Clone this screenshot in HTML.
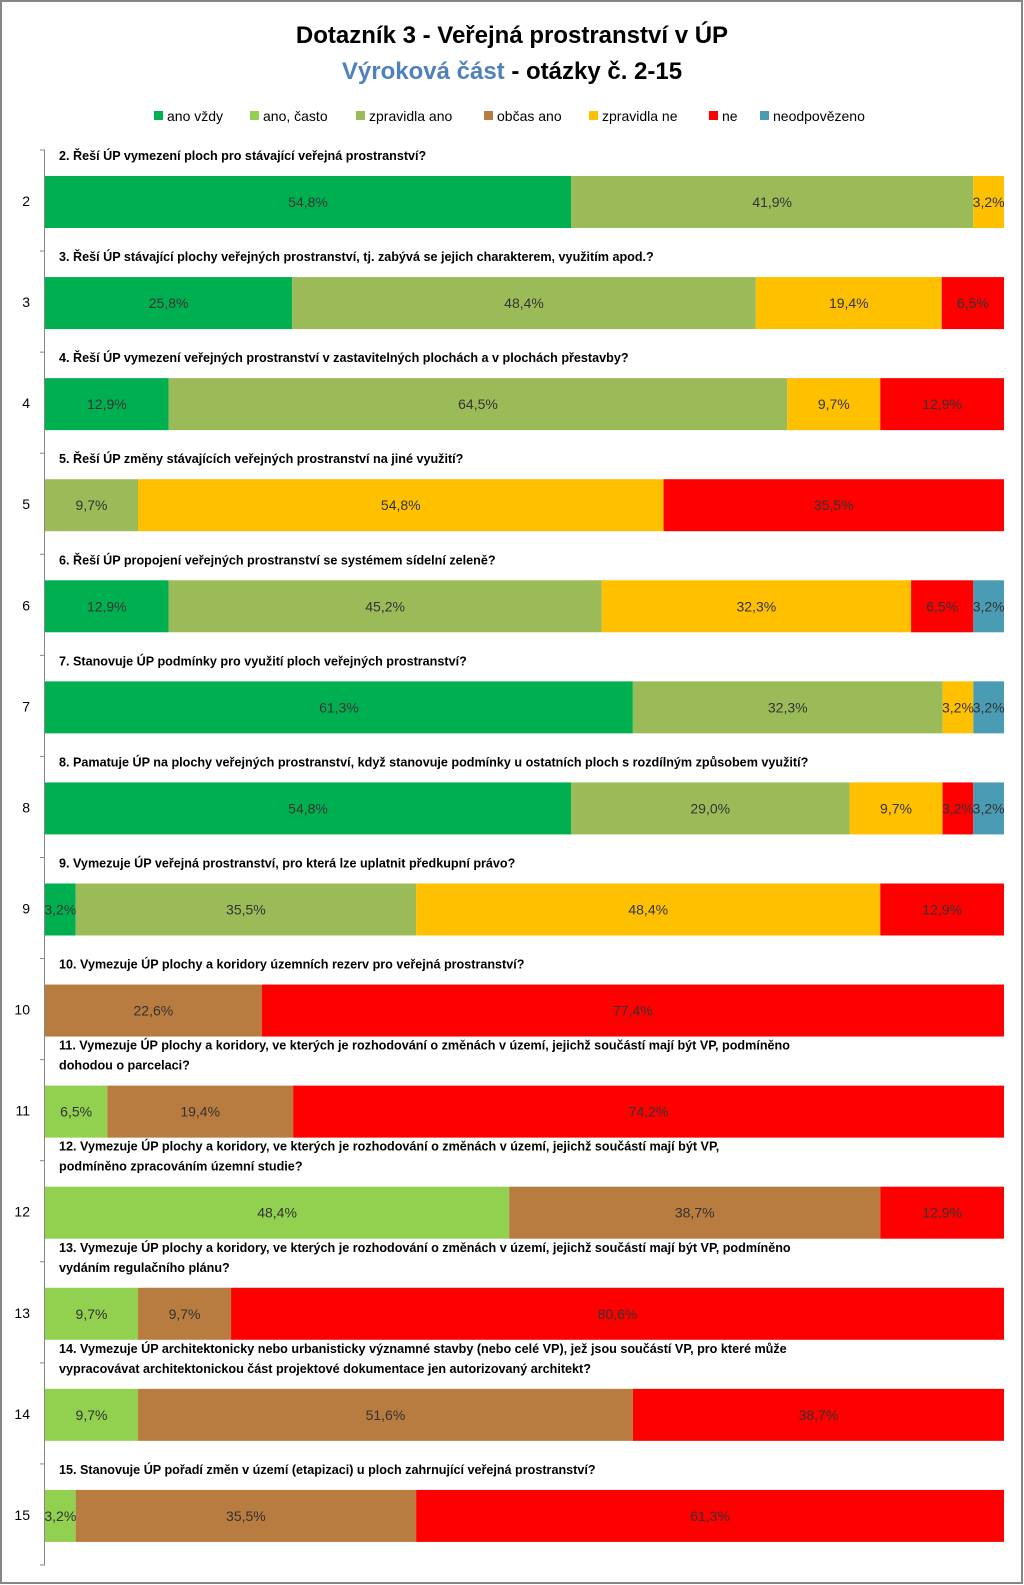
<!DOCTYPE html>
<html><head><meta charset="utf-8">
<style>
body{margin:0;background:#fff;}
svg{display:block;font-family:"Liberation Sans",sans-serif;}
</style></head>
<body>
<svg id="chart" width="1024" height="1585" viewBox="0 0 1024 1585">
<rect x="1" y="1" width="1021" height="1582" fill="#fff" stroke="#868686" stroke-width="2"/>
<text x="512" y="43" text-anchor="middle" font-size="24" font-weight="bold" fill="#000">Dotazník 3 - Veřejná prostranství v ÚP</text>
<text x="512" y="79" text-anchor="middle" font-size="24" font-weight="bold"><tspan fill="#4F81BD">Výroková část</tspan><tspan fill="#000"> - otázky č. 2-15</tspan></text>
<g id="legend"></g>
<g id="axis"></g>
<g id="bars"></g>
</svg>
<script>
const rowLabels=["2","3","4","5","6","7","8","9","10","11","12","13","14","15"];
const questions=[
["2. Řeší ÚP vymezení ploch pro stávající veřejná prostranství?"],
["3. Řeší ÚP stávající plochy veřejných prostranství, tj. zabývá se jejich charakterem, využitím apod.?"],
["4. Řeší ÚP vymezení veřejných prostranství v zastavitelných plochách a v plochách přestavby?"],
["5. Řeší ÚP změny stávajících veřejných prostranství na jiné využití?"],
["6. Řeší ÚP propojení veřejných prostranství se systémem sídelní zeleně?"],
["7. Stanovuje ÚP podmínky pro využití ploch veřejných prostranství?"],
["8. Pamatuje ÚP na plochy veřejných prostranství, když stanovuje podmínky u ostatních ploch s rozdílným způsobem využití?"],
["9. Vymezuje ÚP veřejná prostranství, pro která lze uplatnit předkupní právo?"],
["10. Vymezuje ÚP plochy a koridory územních rezerv pro veřejná prostranství?"],
["11. Vymezuje ÚP plochy a koridory, ve kterých je rozhodování o změnách v území, jejichž součástí mají být VP, podmíněno","dohodou o parcelaci?"],
["12. Vymezuje ÚP plochy a koridory, ve kterých je rozhodování o změnách v území, jejichž součástí mají být VP,","podmíněno zpracováním územní studie?"],
["13. Vymezuje ÚP plochy a koridory, ve kterých je rozhodování o změnách v území, jejichž součástí mají být VP, podmíněno","vydáním regulačního plánu?"],
["14. Vymezuje ÚP architektonicky nebo urbanisticky významné stavby (nebo celé VP), jež jsou součástí VP, pro které může","vypracovávat architektonickou část projektové dokumentace jen autorizovaný architekt?"],
["15. Stanovuje ÚP pořadí změn v území (etapizaci) u ploch zahrnující veřejná prostranství?"]
];
const seriesNames=["ano vždy","ano, často","zpravidla ano","občas ano","zpravidla ne","ne","neodpovězeno"];
const seriesColors=["#00B050","#92D050","#9BBB59","#B87B40","#FFC000","#FF0000","#4A9CB5"];
const anoVzdy=[54.8,25.8,12.9,0,12.9,61.3,54.8,3.2,0,0,0,0,0,0];
const anoCasto=[0,0,0,0,0,0,0,0,0,6.5,48.4,9.7,9.7,3.2];
const zpravidlaAno=[41.9,48.4,64.5,9.7,45.2,32.3,29.0,35.5,0,0,0,0,0,0];
const obcasAno=[0,0,0,0,0,0,0,0,22.6,19.4,38.7,9.7,51.6,35.5];
const zpravidlaNe=[3.2,19.4,9.7,54.8,32.3,3.2,9.7,48.4,0,0,0,0,0,0];
const ne=[0,6.5,12.9,35.5,6.5,0,3.2,12.9,77.4,74.2,12.9,80.6,38.7,61.3];
const neodpovezeno=[0,0,0,0,3.2,3.2,3.2,0,0,0,0,0,0,0];
const series=[anoVzdy,anoCasto,zpravidlaAno,obcasAno,zpravidlaNe,ne,neodpovezeno];

const NS="http://www.w3.org/2000/svg";
function mk(tag,attrs,parent){const e=document.createElementNS(NS,tag);for(const k in attrs)e.setAttribute(k,attrs[k]);parent.appendChild(e);return e;}
const X0=45,X1=1004,Y0=150,PITCH=101.07;
function xScale(f){return X0+f*(X1-X0);}
function bandTop(i){return Y0+i*PITCH;}

// legend
const legend=document.getElementById('legend');
const legX=[154,250,356,484,589,709,760];
seriesNames.forEach((n,i)=>{
  const g=mk('g',{},legend);
  
  
  mk('rect',{x:legX[i],y:111,width:9,height:9,fill:seriesColors[i]},g);
  const t=mk('text',{x:legX[i]+13,y:121,'font-size':14,fill:'#000'},g);
  t.textContent=n;
});

// axis
const axis=document.getElementById('axis');
mk('line',{x1:44.5,y1:Y0,x2:44.5,y2:bandTop(14),stroke:'#868686','stroke-width':1},axis);
for(let i=0;i<=14;i++){
  mk('line',{x1:40,y1:bandTop(i),x2:45,y2:bandTop(i),stroke:'#868686','stroke-width':1},axis);
}
rowLabels.forEach((l,i)=>{
  const t=mk('text',{x:30,y:bandTop(i)+56,'font-size':14,'text-anchor':'end',fill:'#000'},axis);
  
  
  t.textContent=l;
});

// bars
const bars=document.getElementById('bars');
questions.forEach((q,i)=>{
  const top=bandTop(i);
  const lines=q.length;
  q.forEach((line,j)=>{
    const t=mk('text',{x:59,y:top+10-(lines-1-j)*20,'font-size':12.6,'font-weight':'bold',fill:'#000'},bars);
    
    
    t.textContent=line;
  });
  let total=0;series.forEach(s=>total+=s[i]);
  let cum=0;
  series.forEach((s,k)=>{
    const v=s[i];if(!v)return;
    const xa=xScale(cum/total),xb=xScale((cum+v)/total);cum+=v;
    const r=mk('rect',{x:xa,y:top+26,width:xb-xa,height:52,fill:seriesColors[k]},bars);
    
    
    const t=mk('text',{x:(xa+xb)/2,y:top+57,'font-size':14,'text-anchor':'middle',fill:'#333'},bars);
    
    
    t.textContent=v.toFixed(1).replace('.',',')+'%';
  });
});
</script>
</body></html>
